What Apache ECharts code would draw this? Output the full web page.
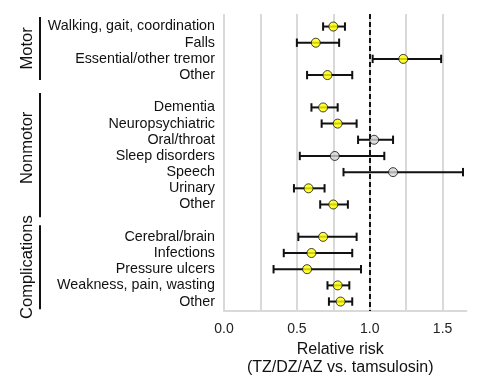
<!DOCTYPE html>
<html><head><meta charset="utf-8">
<script src="https://cdn.jsdelivr.net/npm/echarts@6/dist/echarts.min.js"></script>
<style>html,body{margin:0;padding:0;background:#fff}#c{width:481px;height:382px}</style>
</head><body><div id="c"></div>
<script>
// Data
const categories = ['Walking, gait, coordination','Falls','Essential/other tremor','Other',
  'Dementia','Neuropsychiatric','Oral/throat','Sleep disorders','Speech','Urinary','Other',
  'Cerebral/brain','Infections','Pressure ulcers','Weakness, pain, wasting','Other'];
const rows = [0,1,2,3, 5,6,7,8,9,10,11, 13,14,15,16,17];
const estimates = [0.75,0.63,1.23,0.71, 0.68,0.78,1.03,0.76,1.16,0.58,0.75, 0.68,0.60,0.57,0.78,0.80];
const lower     = [0.68,0.50,1.02,0.57, 0.60,0.67,0.92,0.52,0.82,0.48,0.66, 0.51,0.41,0.34,0.71,0.72];
const upper     = [0.83,0.79,1.49,0.88, 0.78,0.91,1.16,1.10,1.64,0.69,0.85, 0.91,0.88,0.94,0.86,0.88];
const significant = [1,1,1,1, 1,1,0,0,0,1,1, 1,1,1,1,1];
const groups = ['Motor','Nonmotor','Complications'];
const groupFrom = [-0.59, 4.11, 12.28];
const groupTo   = [3.31, 11.79, 17.47];
const groupMid  = [1.35, 7.5, 14.87];
const xTickLabels = ['0.0','0.5','1.0','1.5'];

const FONT = '"Liberation Sans", Arial, sans-serif';
const chart = echarts.init(document.getElementById('c'), null, {renderer:'canvas'});
const labelByRow = {};
rows.forEach((r,i)=>labelByRow[r]=categories[i]);

const option = {
  animation:false,
  backgroundColor:'#fff',
  grid:{left:224, right:14.5, top:14, bottom:67},
  xAxis:{
    type:'value', min:0, max:1.664, interval:0.25,
    axisLine:{show:true, onZero:false, lineStyle:{color:'#d9d9d9', width:2}},
    axisTick:{show:false},
    splitLine:{show:true, showMinLine:true, showMaxLine:false, lineStyle:{color:'#d9d9d9', width:2}},
    axisLabel:{
      fontFamily:FONT, fontSize:14, color:'#222', margin:11, showMaxLabel:false,
      formatter:(v)=>{ const s=v.toFixed(1); return (Math.abs(v*2-Math.round(v*2))<1e-6 && xTickLabels.includes(s)) ? s : ''; }
    },
    name:'Relative risk\n(TZ/DZ/AZ vs. tamsulosin)',
    nameLocation:'middle', nameGap:27,
    nameTextStyle:{fontFamily:FONT, fontSize:16, color:'#111', lineHeight:18, padding:[0,10,0,0]}
  },
  yAxis:{
    type:'value', inverse:true, min:-0.775, max:17.59,
    axisLine:{show:false}, axisTick:{show:false}, splitLine:{show:false},
    axisLabel:{
      customValues: rows,
      fontFamily:FONT, fontSize:14.3, color:'#111', margin:9,
      formatter:(v)=>labelByRow[Math.round(v)] || ''
    }
  },
  series:[
    {
      type:'custom',
      data: rows.map((r,i)=>[lower[i], upper[i], r]),
      renderItem:(params, api)=>{
        const p1 = api.coord([api.value(0), api.value(2)]);
        const p2 = api.coord([api.value(1), api.value(2)]);
        const h = 4.2;
        const st = {stroke:'#111', lineWidth:2};
        return {type:'group', children:[
          {type:'line', shape:{x1:p1[0],y1:p1[1],x2:p2[0],y2:p2[1]}, style:st},
          {type:'line', shape:{x1:p1[0],y1:p1[1]-h,x2:p1[0],y2:p1[1]+h}, style:st},
          {type:'line', shape:{x1:p2[0],y1:p2[1]-h,x2:p2[0],y2:p2[1]+h}, style:st}
        ]};
      },
      z:2
    },
    {
      type:'scatter',
      symbol:'circle', symbolSize:9,
      data: rows.map((r,i)=>({value:[estimates[i], r], itemStyle:{color: significant[i] ? '#ffff00' : '#d4d4d4'}})),
      itemStyle:{borderColor:'#111', borderWidth:1},
      z:3,
      markLine:{
        silent:true, symbol:'none', label:{show:false},
        lineStyle:{color:'#111', type:[5,3], width:2},
        data:[{xAxis:1}]
      }
    }
  ]
};
chart.setOption(option);

const graphics = [];
groups.forEach((g,i)=>{
  const y1 = chart.convertToPixel({gridIndex:0}, [0, groupFrom[i]])[1];
  const y2 = chart.convertToPixel({gridIndex:0}, [0, groupTo[i]])[1];
  const ym = chart.convertToPixel({gridIndex:0}, [0, groupMid[i]])[1];
  graphics.push({type:'line', shape:{x1:40,y1:y1,x2:40,y2:y2}, style:{stroke:'#111', lineWidth:2}});
  graphics.push({type:'text', x:27, y:ym, rotation:Math.PI/2,
    style:{text:g, font:'16.5px '+FONT, fill:'#111', textAlign:'center', textVerticalAlign:'middle'}});
});
chart.setOption({graphic:graphics});
</script>
</body></html>
